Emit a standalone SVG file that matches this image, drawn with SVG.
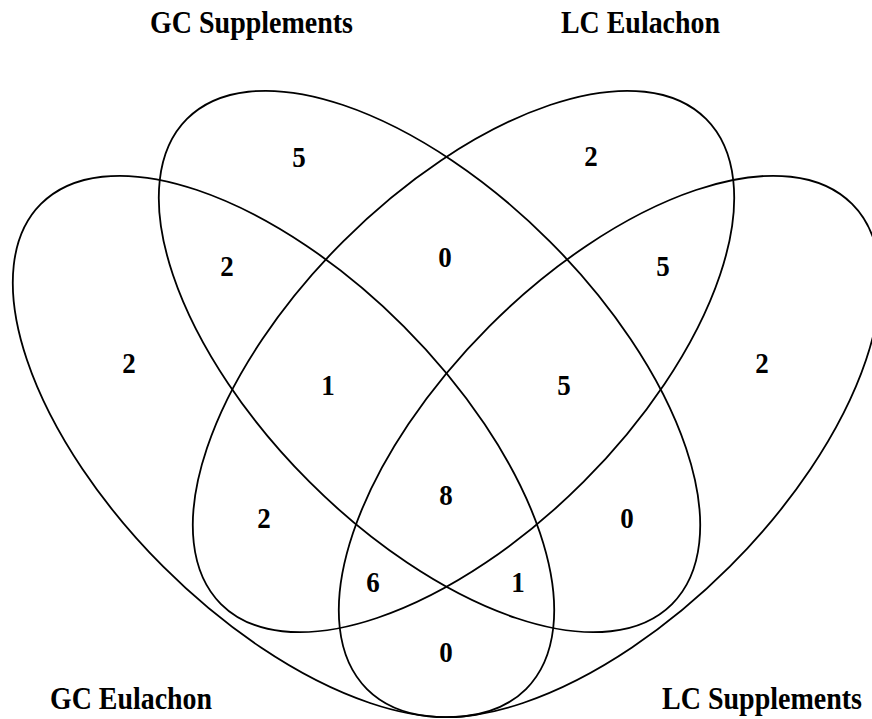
<svg xmlns="http://www.w3.org/2000/svg" width="872" height="719" viewBox="0 0 872 719">
<style>
.set{fill:none;stroke:#000;stroke-width:1.8}
.lbl{font-family:"Liberation Serif","Times New Roman",serif;font-weight:bold;font-size:28px;fill:#000}
.num{font-family:"Liberation Serif","Times New Roman",serif;font-weight:bold;font-size:27px;fill:#000;text-anchor:middle}
</style>
<rect width="872" height="719" fill="#fff"/>
<g id="connectors"></g>
<g id="gc-eulachon">
<ellipse class="set" cx="0" cy="0" rx="343" ry="170" transform="translate(283.5 446.5) rotate(45)"/>
<text class="lbl" transform="translate(50 709) scale(1 1.1)" textLength="162" lengthAdjust="spacingAndGlyphs">GC Eulachon</text>
</g>
<g id="gc-supplements">
<ellipse class="set" cx="0" cy="0" rx="343" ry="170" transform="translate(429.5 361.5) rotate(45)"/>
<text class="lbl" transform="translate(150 33) scale(1 1.1)" textLength="203" lengthAdjust="spacingAndGlyphs">GC Supplements</text>
</g>
<g id="lc-eulachon">
<ellipse class="set" cx="0" cy="0" rx="343" ry="170" transform="translate(463.5 361.5) rotate(-45)"/>
<text class="lbl" transform="translate(561 33) scale(1 1.1)" textLength="159" lengthAdjust="spacingAndGlyphs">LC Eulachon</text>
</g>
<g id="lc-supplements">
<ellipse class="set" cx="0" cy="0" rx="343" ry="170" transform="translate(609.5 446.5) rotate(-45)"/>
<text class="lbl" transform="translate(662 709) scale(1 1.1)" textLength="200" lengthAdjust="spacingAndGlyphs">LC Supplements</text>
</g>
<g id="counts">
<text class="num" transform="translate(299 167) scale(1 1.12)">5</text>
<text class="num" transform="translate(591 166) scale(1 1.12)">2</text>
<text class="num" transform="translate(227 276) scale(1 1.12)">2</text>
<text class="num" transform="translate(445 267) scale(1 1.12)">0</text>
<text class="num" transform="translate(663 276) scale(1 1.12)">5</text>
<text class="num" transform="translate(129 373) scale(1 1.12)">2</text>
<text class="num" transform="translate(762 373) scale(1 1.12)">2</text>
<text class="num" transform="translate(328 395) scale(1 1.12)">1</text>
<text class="num" transform="translate(564 395) scale(1 1.12)">5</text>
<text class="num" transform="translate(446 505) scale(1 1.12)">8</text>
<text class="num" transform="translate(264 528) scale(1 1.12)">2</text>
<text class="num" transform="translate(627 528) scale(1 1.12)">0</text>
<text class="num" transform="translate(373 592) scale(1 1.12)">6</text>
<text class="num" transform="translate(518 592) scale(1 1.12)">1</text>
<text class="num" transform="translate(446 662) scale(1 1.12)">0</text>
</g>
</svg>
